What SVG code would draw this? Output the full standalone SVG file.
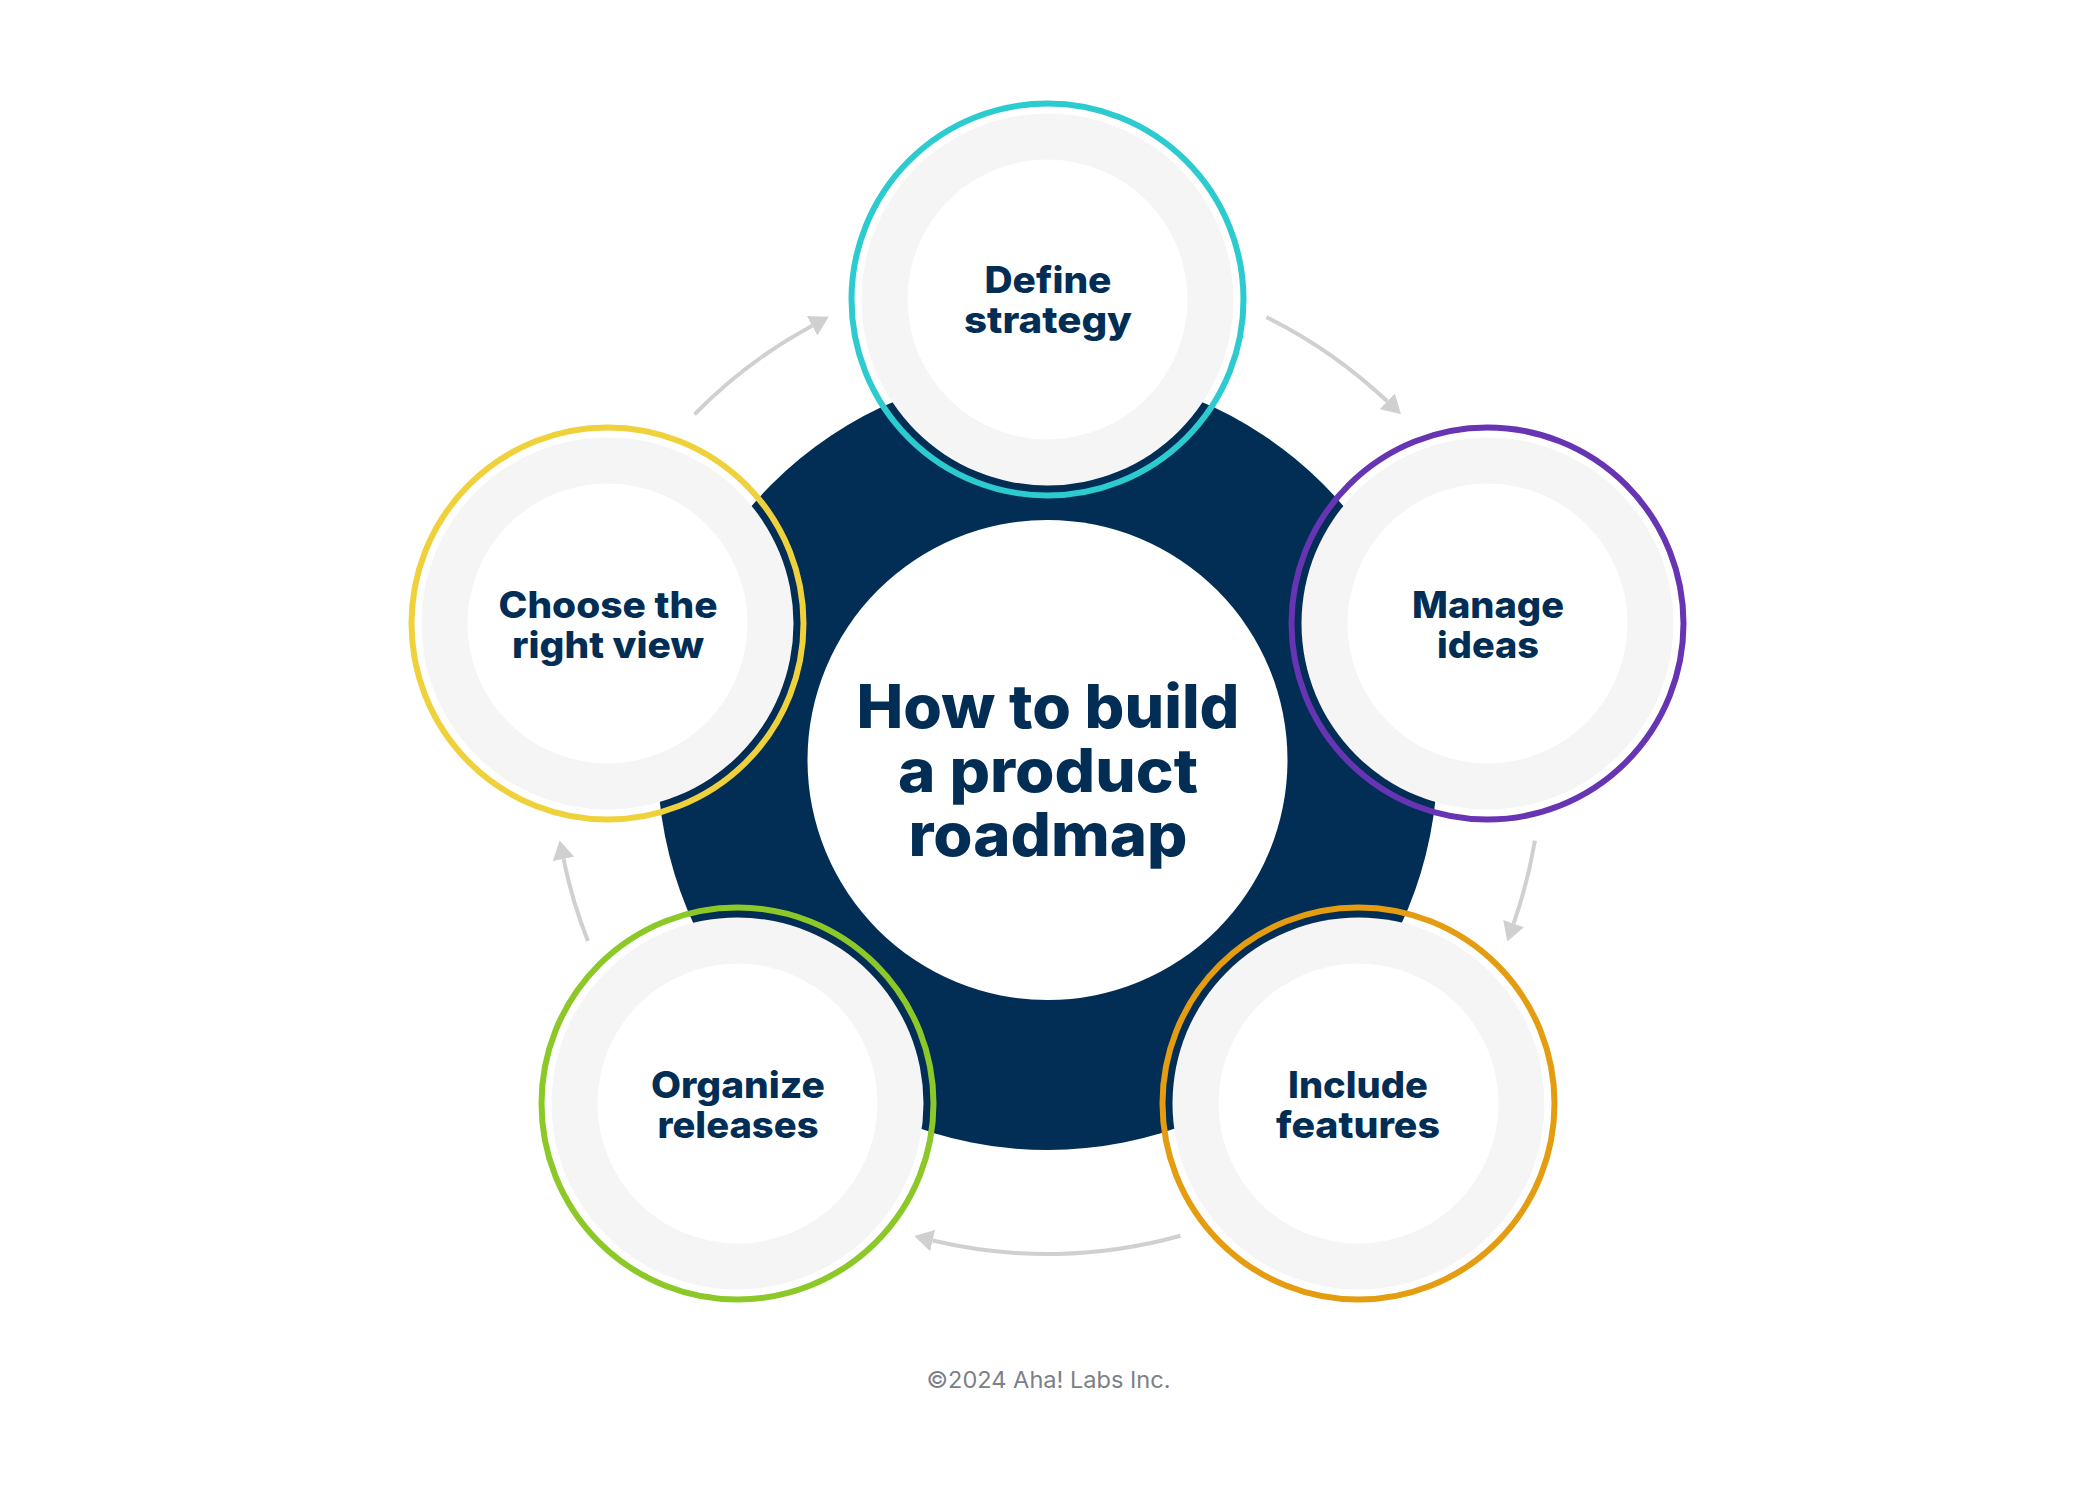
<svg xmlns="http://www.w3.org/2000/svg" width="2096" height="1494" viewBox="0 0 2096 1494">
  <style>
    .bg{fill:#ffffff}
    .navy{fill:#022d55}
    .hole{fill:#ffffff}
    .disk{fill:#f5f5f5}
    .inner{fill:#ffffff}
    .ring{fill:none;stroke-width:6}
    .lbl{font-family:Inter,"Noto Sans","Liberation Sans",sans-serif;font-weight:800;font-size:37px;fill:#022d55;text-anchor:middle}
    .title{font-family:Inter,"Noto Sans","Liberation Sans",sans-serif;font-weight:800;font-size:60px;fill:#022d55;text-anchor:middle}
    .foot{font-family:Inter,"Noto Sans","Liberation Sans",sans-serif;font-weight:400;font-size:23px;fill:#7c8088;text-anchor:middle}
    .conn{fill:none;stroke:#d0d0d0;stroke-width:4}
  </style>
  <defs>
    <marker id="ah" viewBox="0 -11 19 22" refX="0" refY="0" markerWidth="19" markerHeight="22" markerUnits="userSpaceOnUse" orient="auto">
      <path d="M0,-11 L19,0 L0,11 Z" fill="#d0d0d0"/>
    </marker>
  </defs>
  <rect class="bg" x="0" y="0" width="2096" height="1494"/>

  <g id="center">
    <circle class="navy" cx="1047.5" cy="760" r="390"/>
    <circle class="hole" cx="1047.5" cy="760" r="240"/>
    <text class="title" x="1048" y="728" textLength="383" lengthAdjust="spacingAndGlyphs">How to build</text>
    <text class="title" x="1048" y="792" textLength="300" lengthAdjust="spacingAndGlyphs">a product</text>
    <text class="title" x="1048" y="856" textLength="279" lengthAdjust="spacingAndGlyphs">roadmap</text>
  </g>

  <g id="node-define-strategy">
    <circle class="disk" cx="1047.5" cy="299.5" r="186"/>
    <circle class="inner" cx="1047.5" cy="299.5" r="140"/>
    <circle class="ring" cx="1047.5" cy="299.5" r="196" stroke="#2ccbd0"/>
    <text class="lbl" x="1048" y="293" textLength="127" lengthAdjust="spacingAndGlyphs">Define</text>
    <text class="lbl" x="1048" y="333" textLength="168" lengthAdjust="spacingAndGlyphs">strategy</text>
  </g>

  <g id="node-manage-ideas">
    <circle class="disk" cx="1487.5" cy="623.5" r="186"/>
    <circle class="inner" cx="1487.5" cy="623.5" r="140"/>
    <circle class="ring" cx="1487.5" cy="623.5" r="196" stroke="#6734b3"/>
    <text class="lbl" x="1488" y="617.5" textLength="152" lengthAdjust="spacingAndGlyphs">Manage</text>
    <text class="lbl" x="1488" y="657.5" textLength="102" lengthAdjust="spacingAndGlyphs">ideas</text>
  </g>

  <g id="node-include-features">
    <circle class="disk" cx="1358.5" cy="1103.5" r="186"/>
    <circle class="inner" cx="1358.5" cy="1103.5" r="140"/>
    <circle class="ring" cx="1358.5" cy="1103.5" r="196" stroke="#e49c10"/>
    <text class="lbl" x="1358" y="1098" textLength="140" lengthAdjust="spacingAndGlyphs">Include</text>
    <text class="lbl" x="1358" y="1138" textLength="164" lengthAdjust="spacingAndGlyphs">features</text>
  </g>

  <g id="node-organize-releases">
    <circle class="disk" cx="737.5" cy="1103.5" r="186"/>
    <circle class="inner" cx="737.5" cy="1103.5" r="140"/>
    <circle class="ring" cx="737.5" cy="1103.5" r="196" stroke="#8cc827"/>
    <text class="lbl" x="738" y="1098" textLength="174" lengthAdjust="spacingAndGlyphs">Organize</text>
    <text class="lbl" x="738" y="1138" textLength="161" lengthAdjust="spacingAndGlyphs">releases</text>
  </g>

  <g id="node-choose-the-right-view">
    <circle class="disk" cx="607.5" cy="623.5" r="186"/>
    <circle class="inner" cx="607.5" cy="623.5" r="140"/>
    <circle class="ring" cx="607.5" cy="623.5" r="196" stroke="#efd13b"/>
    <text class="lbl" x="608" y="617.5" textLength="219" lengthAdjust="spacingAndGlyphs">Choose the</text>
    <text class="lbl" x="608" y="657.5" textLength="192" lengthAdjust="spacingAndGlyphs">right view</text>
  </g>

  <g id="connectors">
    <path class="conn" marker-end="url(#ah)" d="M694.5,414.4 A494,494 0 0 1 812.1,325.7"/>
    <path class="conn" marker-end="url(#ah)" d="M1266.4,317.1 A494,494 0 0 1 1387.2,401.3"/>
    <path class="conn" marker-end="url(#ah)" d="M1534.9,840.7 A494,494 0 0 1 1513.6,923.6"/>
    <path class="conn" marker-end="url(#ah)" d="M1180.4,1235.8 A494,494 0 0 1 932.7,1240.5"/>
    <path class="conn" marker-end="url(#ah)" d="M587.9,941.1 A494,494 0 0 1 563.5,859.0"/>
  </g>

  <text class="foot" x="1048.5" y="1388" textLength="244" lengthAdjust="spacingAndGlyphs">©2024 Aha! Labs Inc.</text>
</svg>
